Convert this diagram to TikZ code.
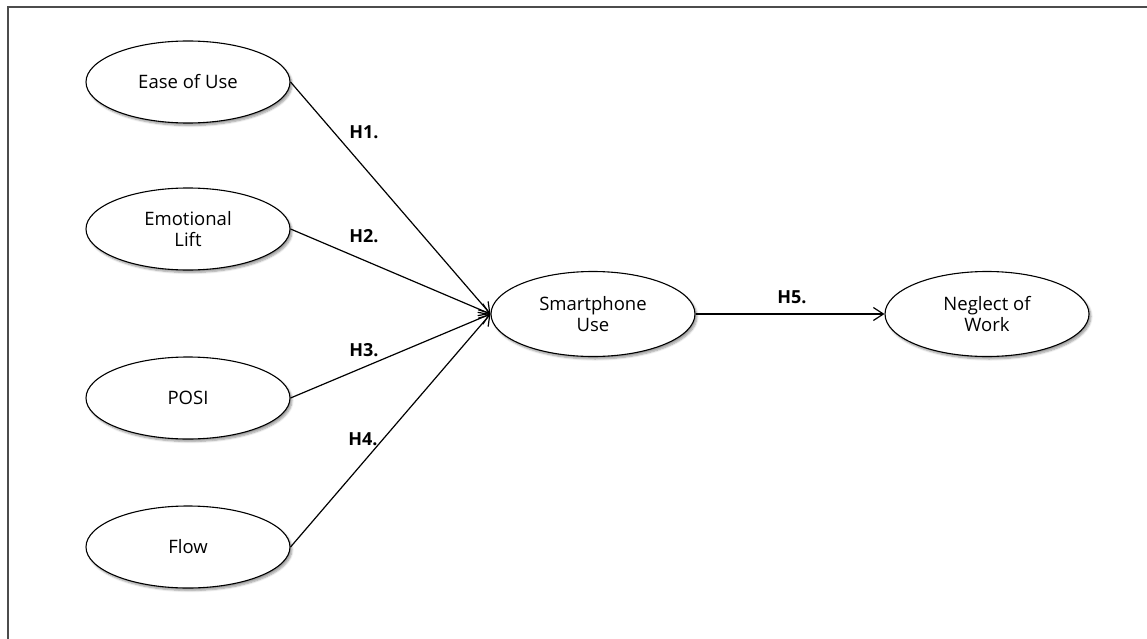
\documentclass[tikz,border=0pt]{standalone}
\usepackage{fontspec}
\setmainfont{Open Sans}
\usetikzlibrary{shapes.geometric, shadows.blur, arrows.meta}
\tikzset{
  construct/.style={ellipse, draw, line width=1.1pt, fill=white,
    minimum width=204pt, minimum height=82pt, align=center,
    font=\fontsize{18.5}{21}\selectfont,
    blur shadow={shadow xshift=2pt, shadow yshift=-2.5pt, shadow blur steps=6,
      shadow blur radius=2pt, shadow opacity=40}},
  hyp/.style={font=\fontsize{18}{21}\selectfont\bfseries},
  path/.style={line width=1.2pt, -{Straight Barb[length=10pt,width=13pt]}}
}

\begin{document}
\begin{tikzpicture}[x=1pt,y=-1pt]
  \useasboundingbox (0,0) rectangle (1147,639);
  \draw[line width=2pt, black!70] (1147,7.5) -- (7.5,7.5) -- (7.5,639);
  % predictors
  \foreach \n/\y/\txt in {eou/82/Ease of Use, emo/229/Emotional\\Lift, posi/398/POSI, flow/547/Flow}
    \node[construct] (\n) at (188,\y) {\txt};
  \node[construct, minimum height=85pt] (use) at (593,314) {Smartphone\\Use};
  \node[construct, minimum height=85pt] (neg) at (987,314) {Neglect of\\Work};
  % hypotheses
  \foreach \n in {eou,emo,posi,flow}
    \draw[path] (\n.east) -- (use.west);
  \draw[path] (use.east) -- (neg.west);
  \foreach \h/\x/\y in {1/364/132, 2/364/236, 3/364/350, 4/363/439, 5/792/297}
    \node[hyp] (h\h) at (\x,\y) {H\h.};
\end{tikzpicture}
\end{document}
